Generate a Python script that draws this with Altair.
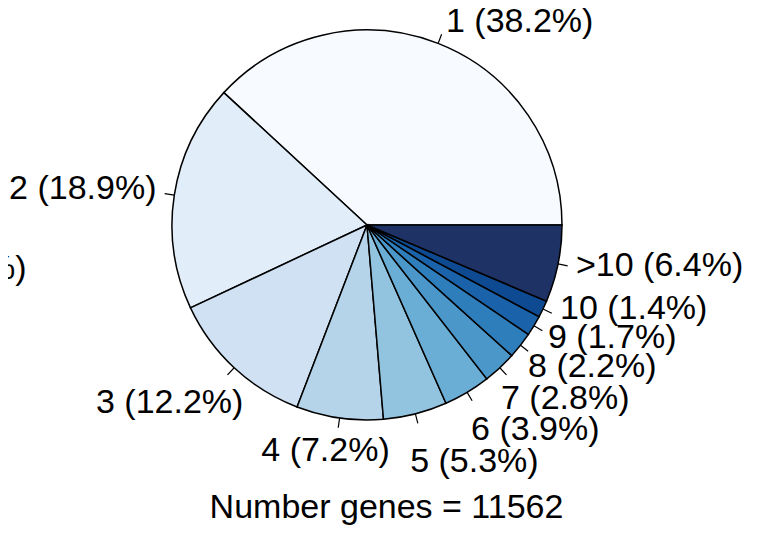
import math
import altair as alt
import pandas as pd

# ---- data ----
categories = ["1", "2", "3", "4", "5", "6", "7", "8", "9", "10", ">10"]
percents = [38.2, 18.9, 12.2, 7.2, 5.3, 3.9, 2.8, 2.2, 1.7, 1.4, 6.4]
n_genes = 11562
stray_label = "%)"

# ---- styling ----
colors = ["#f7fbff", "#e1edf8", "#cfe1f2", "#b5d4e9", "#93c4df", "#6aaed6",
          "#4b97c9", "#2e7ebc", "#1a63ab", "#0e4a91", "#1f3266"]
label_align = ["left", "right", "right", "center", "left", "left", "left",
               "left", "left", "left", "left"]
label_dx = [0.8, 1.5, 22.5, -11.3, -10.1, -6.1, -12.1, -7.8, -2.7, -0.6, -1.2]
label_dy = [-2.8, -3.2, 20.8, 13.6, 29.2, 20.9, 17.0, 9.6, 2.3, -8.3, -1.8]
FONT = "Liberation Sans, Arial, Helvetica, sans-serif"
FS = 34

CX, CY, R = 359, 217, 195

df = pd.DataFrame({"idx": list(range(len(categories))), "cat": categories, "pct": percents})
df["label"] = [f"{c} ({p}%)" for c, p in zip(categories, percents)]
total = float(sum(percents))

theta_scale = alt.Scale(domain=[0, total], range=[2.5 * math.pi, 0.5 * math.pi])

base = (
    alt.Chart(df)
    .transform_window(cumend="sum(pct)", sort=[alt.SortField("idx")])
    .transform_calculate(start="datum.cumend - datum.pct", mid="datum.cumend - datum.pct / 2")
)

pie = base.mark_arc(radius=R, stroke="black", strokeWidth=1.5).encode(
    theta=alt.Theta("start:Q", scale=theta_scale, stack=None),
    theta2="cumend:Q",
    color=alt.Color("cat:N", scale=alt.Scale(domain=categories, range=colors), legend=None),
    x=alt.value(CX),
    y=alt.value(CY),
)

ticks = base.mark_arc(radius=R * 1.05, radius2=R, stroke="black", strokeWidth=1.2,
                      fillOpacity=0).encode(
    theta=alt.Theta("mid:Q", scale=theta_scale, stack=None),
    theta2="mid:Q",
    x=alt.value(CX),
    y=alt.value(CY),
)

labels = []
for i in range(len(categories)):
    labels.append(
        base.transform_filter(alt.datum.idx == i)
        .mark_text(align=label_align[i], baseline="middle", dx=label_dx[i], dy=label_dy[i],
                   radius=R * 1.1, fontSize=FS, font=FONT, color="black")
        .encode(
            theta=alt.Theta("mid:Q", scale=theta_scale, stack=None),
            text="label:N",
            x=alt.value(CX),
            y=alt.value(CY),
        )
    )

caption = alt.Chart(pd.DataFrame({"t": [f"Number genes = {n_genes}"]})).mark_text(
    align="center", baseline="middle", fontSize=FS, font=FONT, color="black"
).encode(text="t:N", x=alt.value(378.5), y=alt.value(500))

frag = alt.Chart(pd.DataFrame({"t": [stray_label]})).mark_text(
    align="right", baseline="middle", fontSize=FS, font=FONT, color="black"
).encode(text="t:N", x=alt.value(18.5), y=alt.value(261))

chart = (
    alt.layer(pie, ticks, *labels, caption, frag)
    .properties(width=744, height=518, autosize=alt.AutoSizeParams(type="none"), padding=0)
    .configure_view(strokeWidth=0)
)

chart.save("out.html", embed_options={"renderer": "svg", "actions": False})
